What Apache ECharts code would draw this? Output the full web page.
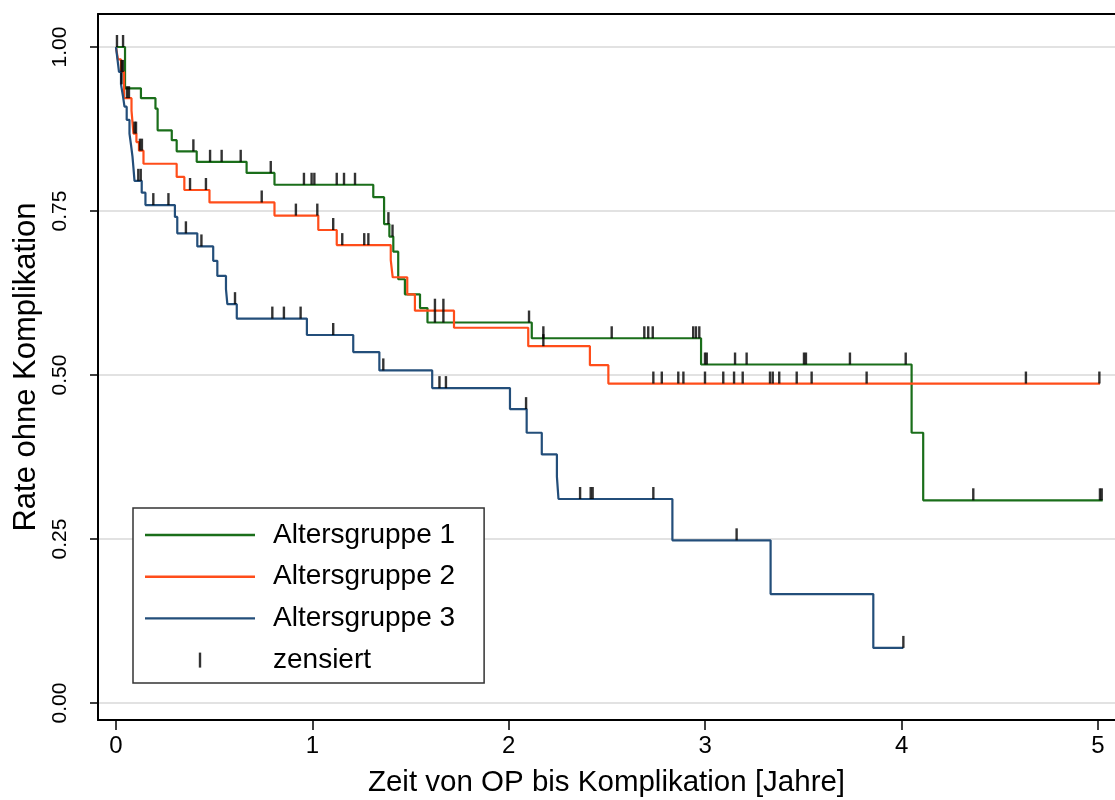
<!DOCTYPE html>
<html>
<head>
<meta charset="utf-8">
<title>Kaplan-Meier: Rate ohne Komplikation</title>
<script src="https://cdn.jsdelivr.net/npm/echarts@6/dist/echarts.min.js"></script>
<style>
  html, body { margin: 0; padding: 0; background: #ffffff; }
  #chart { width: 1115px; height: 800px; }
</style>
</head>
<body>
<div id="chart"></div>
<script>
// Kaplan-Meier step curves: time (years) at which each level starts, and the level itself
const grp1Time = [0, 0.046, 0.127, 0.201, 0.212, 0.284, 0.309, 0.411, 0.665, 0.807, 1.310, 1.365, 1.392, 1.412, 1.437, 1.471, 1.548, 1.586, 2.117, 2.979, 4.051, 4.110, 5.024];
const grp1Surv = [1.000, 0.937, 0.922, 0.906, 0.873, 0.858, 0.841, 0.825, 0.808, 0.790, 0.771, 0.730, 0.711, 0.688, 0.646, 0.623, 0.602, 0.580, 0.556, 0.516, 0.412, 0.309, 0.309];
const grp1Cens = [0.036, 0.394, 0.479, 0.538, 0.635, 0.788, 0.957, 0.996, 1.010, 1.124, 1.161, 1.217, 1.387, 1.408, 1.624, 1.667, 2.103, 2.176, 2.524, 2.690, 2.710, 2.733, 2.939, 2.953, 2.970, 2.999, 3.008, 3.152, 3.211, 3.503, 3.513, 3.737, 4.021, 4.365, 5.010, 5.019];

const grp2Time = [0, 0.010, 0.0255, 0.041, 0.079, 0.089, 0.104, 0.117, 0.140, 0.309, 0.348, 0.476, 0.807, 1.030, 1.124, 1.399, 1.409, 1.483, 1.522, 1.721, 2.099, 2.413, 2.507, 5.010];
const grp2Surv = [1.000, 0.981, 0.962, 0.922, 0.903, 0.868, 0.855, 0.842, 0.822, 0.802, 0.782, 0.763, 0.743, 0.721, 0.698, 0.675, 0.649, 0.623, 0.598, 0.572, 0.544, 0.515, 0.487, 0.487];
const grp2Cens = [0.028, 0.035, 0.056, 0.066, 0.094, 0.102, 0.122, 0.132, 0.377, 0.458, 0.742, 0.916, 1.025, 1.106, 1.152, 1.264, 1.285, 1.624, 1.667, 2.176, 2.736, 2.779, 2.863, 2.889, 2.999, 3.092, 3.147, 3.191, 3.330, 3.344, 3.377, 3.466, 3.542, 3.822, 4.633, 5.007];

const grp3Time = [0, 0.0076, 0.0153, 0.0255, 0.0356, 0.0433, 0.0545, 0.0687, 0.0764, 0.084, 0.0891, 0.0942, 0.131, 0.150, 0.300, 0.312, 0.414, 0.495, 0.516, 0.560, 0.567, 0.615, 0.972, 1.208, 1.341, 1.610, 2.006, 2.091, 2.168, 2.245, 2.253, 2.833, 3.333, 3.856, 4.009];
const grp3Surv = [1.000, 0.981, 0.962, 0.943, 0.925, 0.909, 0.889, 0.868, 0.851, 0.833, 0.815, 0.796, 0.778, 0.759, 0.741, 0.716, 0.696, 0.674, 0.651, 0.631, 0.608, 0.586, 0.561, 0.535, 0.507, 0.480, 0.448, 0.412, 0.379, 0.345, 0.311, 0.248, 0.166, 0.084, 0.084];
const grp3Cens = [0.005, 0.028, 0.1135, 0.126, 0.190, 0.267, 0.356, 0.435, 0.606, 0.796, 0.855, 0.940, 1.106, 1.361, 1.647, 1.680, 2.088, 2.363, 2.417, 2.427, 2.736, 3.160, 4.009];

const groupNames = ['Altersgruppe 1', 'Altersgruppe 2', 'Altersgruppe 3'];
const censorName = 'zensiert';
const xTicks = [0, 1, 2, 3, 4, 5];
const yTicks = [0, 0.25, 0.5, 0.75, 1];
const xTitle = 'Zeit von OP bis Komplikation [Jahre]';
const yTitle = 'Rate ohne Komplikation';

const groupColors = ['#1a6e1a', '#ff4d1a', '#234e7a'];
const FONT = "'Liberation Sans', Arial, Helvetica, sans-serif";

// level of a step curve at time t
function levelAt(times, surv, t) {
  let s = surv[0];
  for (let i = 0; i < times.length; i++) {
    if (times[i] <= t) s = surv[i]; else break;
  }
  return s;
}

const groups = [
  { time: grp1Time, surv: grp1Surv, cens: grp1Cens },
  { time: grp2Time, surv: grp2Surv, cens: grp2Cens },
  { time: grp3Time, surv: grp3Surv, cens: grp3Cens }
];

const lineSeries = groups.map((g, i) => ({
  name: groupNames[i],
  type: 'line',
  step: 'end',
  symbol: 'none',
  data: g.time.map((t, k) => [t, g.surv[k]]),
  lineStyle: { color: groupColors[i], width: 2.2 },
  itemStyle: { color: groupColors[i] },
  z: 2
}));

const censorData = [];
groups.forEach(g => g.cens.forEach(t => censorData.push([t, levelAt(g.time, g.surv, t)])));

// legend keys: a flat bar for each curve, a short upright bar for censoring
const lineKey = 'path://M0,0H110V2.4H0Z';
const censorKey = 'path://M0,0H2.4V15H0Z';

const chart = echarts.init(document.getElementById('chart'), null, { renderer: 'canvas' });

chart.setOption({
  animation: false,
  backgroundColor: '#ffffff',
  textStyle: { fontFamily: FONT },
  grid: { left: 98, top: 14, right: 0, bottom: 80, outerBoundsMode: 'none', containLabel: false },
  legend: {
    orient: 'vertical',
    left: 133,
    top: 508,
    padding: [12, 29, 8, 12],
    itemWidth: 110,
    itemHeight: 15,
    itemGap: 11.7,
    selectedMode: false,
    backgroundColor: '#ffffff',
    borderColor: '#333333',
    borderWidth: 1.5,
    borderRadius: 0,
    textStyle: { fontFamily: FONT, fontSize: 28, color: '#000000', lineHeight: 30, padding: [0, 0, 0, 13] },
    data: [
      { name: groupNames[0], icon: lineKey, itemStyle: { color: groupColors[0] } },
      { name: groupNames[1], icon: lineKey, itemStyle: { color: groupColors[1] } },
      { name: groupNames[2], icon: lineKey, itemStyle: { color: groupColors[2] } },
      { name: censorName, icon: censorKey, itemStyle: { color: '#000000' } }
    ]
  },
  xAxis: [
    {
      type: 'value',
      min: -0.0916,
      max: 5.0866,
      name: xTitle,
      nameLocation: 'middle',
      nameGap: 48,
      nameTextStyle: { fontFamily: FONT, fontSize: 29.5, color: '#000000' },
      axisLine: { show: true, onZero: false, lineStyle: { color: '#000000', width: 2 } },
      axisTick: { show: true, customValues: xTicks, length: 10, lineStyle: { color: '#000000', width: 1.5 } },
      axisLabel: { customValues: xTicks, fontFamily: FONT, fontSize: 24, color: '#000000', margin: 14, formatter: v => String(v) },
      splitLine: { show: false }
    },
    {
      type: 'value',
      position: 'top',
      min: -0.0916,
      max: 5.0866,
      axisLine: { show: true, onZero: false, lineStyle: { color: '#000000', width: 2 } },
      axisTick: { show: false },
      axisLabel: { show: false },
      splitLine: { show: false }
    }
  ],
  yAxis: {
    type: 'value',
    min: -0.0259,
    max: 1.0503,
    name: yTitle,
    nameLocation: 'middle',
    nameRotate: 90,
    nameGap: 54,
    nameTextStyle: { fontFamily: FONT, fontSize: 31, color: '#000000' },
    axisLine: { show: true, onZero: false, lineStyle: { color: '#000000', width: 2 } },
    axisTick: { show: true, customValues: yTicks, length: 8, lineStyle: { color: '#000000', width: 1.5 } },
    axisLabel: { customValues: yTicks, rotate: 90, fontFamily: FONT, fontSize: 21, color: '#000000', margin: 27, formatter: v => v.toFixed(2) },
    splitLine: { show: true, lineStyle: { color: '#d8d8d8', width: 1.5 } }
  },
  series: lineSeries.concat([{
    name: censorName,
    type: 'scatter',
    data: censorData,
    symbol: 'rect',
    symbolSize: [2.4, 12],
    symbolOffset: [0, -6],
    itemStyle: { color: '#000000' },
    z: 3
  }])
});
</script>
</body>
</html>
